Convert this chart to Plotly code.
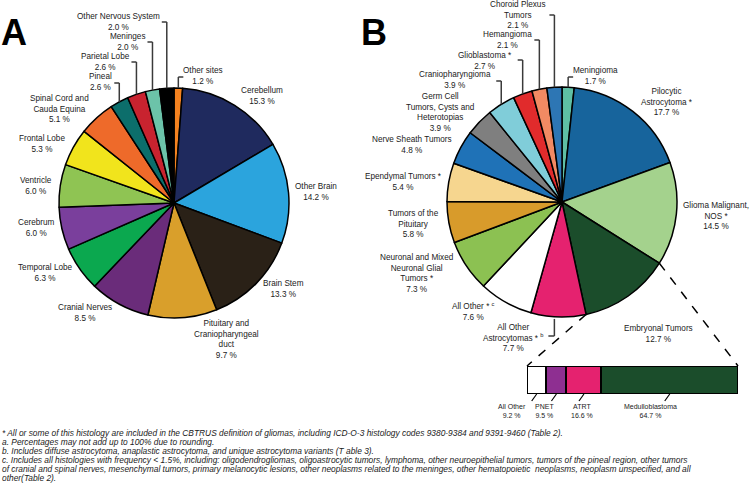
import math
import plotly.graph_objects as go

W, H = 750, 484
FONT = "Liberation Sans, Arial, sans-serif"
TXT = "#222222"

# ---------------- Panel A: tumour site ----------------
site_labels = ["Other sites", "Cerebellum", "Other Brain", "Brain Stem",
               "Pituitary and<br>Craniopharyngeal<br>duct", "Cranial Nerves",
               "Temporal Lobe", "Cerebrum", "Ventricle", "Frontal Lobe",
               "Spinal Cord and<br>Cauda Equina", "Pineal", "Parietal Lobe",
               "Meninges", "Other Nervous System"]
site_values = [1.2, 15.3, 14.2, 13.3, 9.7, 8.5, 6.3, 6.0, 6.0, 5.3, 5.1, 2.6, 2.6, 2.0, 2.0]
site_colors = ["#f5821f", "#1f2a5e", "#2ba4dd", "#2a2117", "#d99f2b", "#6a2c7a",
               "#0ba84f", "#7a3f9c", "#8fc453", "#f1e41c", "#ee6a2a", "#0c6e6b",
               "#c8232f", "#6cc3a9", "#000000"]
# label centres (pixels)
site_label_pos = [(203, 76), (262, 96.5), (316, 192), (283, 288.5), (227, 339),
                  (85, 313), (45, 273), (36, 228.5), (36, 185.5), (42, 144),
                  (59, 108.5), (101, 82.5), (105, 62), (128, 42), (118, 22)]
# leader lines: index -> (tick y, tick direction)
site_leaders = {0: (77, 1), 11: (83, -1), 12: (62, -1), 13: (42, -1), 14: (22, -1)}

# ---------------- Panel B: histology ----------------
hist_labels = ["Meningioma", "Pilocytic<br>Astrocytoma *", "Glioma Malignant,<br>NOS *",
               "Embryonal Tumors", "All Other<br>Astrocytomas * <sup>b</sup>",
               "All Other * <sup>c</sup>", "Neuronal and Mixed<br>Neuronal Glial<br>Tumors *",
               "Tumors of the<br>Pituitary", "Ependymal Tumors *", "Nerve Sheath Tumors",
               "Germ Cell<br>Tumors, Cysts and<br>Heterotopias", "Craniopharyngioma",
               "Glioblastoma *", "Hemangioma", "Choroid Plexus<br>Tumors"]
hist_values = [1.7, 17.7, 14.5, 12.7, 7.7, 7.6, 7.3, 5.8, 5.4, 4.8, 3.9, 3.9, 2.7, 2.1, 2.1]
hist_colors = ["#5fbfa5", "#17649c", "#a4d28d", "#1b4d2b", "#e5226f", "#ffffff",
               "#8cc152", "#d89b2b", "#f6d68f", "#1f72b7", "#7f7f7f", "#80cdd9",
               "#e12b2c", "#f28a63", "#2d76b4"]
hist_label_pos = [(595, 76), (667, 101.5), (716, 215.5), (658, 334), (513, 337.5),
                  (473, 311), (417, 273.5), (413, 223.5), (403, 182), (412, 145),
                  (440, 112.5), (455, 80.5), (485, 60.5), (507, 40), (518, 15)]
hist_leaders = {0: (77, 1), 11: (81, -1), 12: (60, -1), 13: (40, -1), 14: (15, -1)}
hist_leaders_down = {4: (336, -1)}

# ---------------- Embryonal breakdown ----------------
emb_labels = ["All Other", "PNET", "ATRT", "Medulloblastoma"]
emb_values = [9.2, 9.5, 16.6, 64.7]
emb_colors = ["#ffffff", "#8e2f91", "#e5226f", "#1b4d2b"]
emb_label_pos = [(512, 411), (544, 411), (582, 411), (650, 411)]
emb_parent = "Embryonal Tumors"

footnotes = [
    "* All or some of this histology are included in the CBTRUS definition of gliomas, including ICD-O-3 histology codes 9380-9384 and 9391-9460 (Table 2).",
    "a. Percentages may not add up to 100% due to rounding.",
    "b. Includes diffuse astrocytoma, anaplastic astrocytoma, and unique astrocytoma variants (T able 3).",
    "c. Includes all histologies with frequency < 1.5%, including: oligodendrogliomas, oligoastrocytic tumors, lymphoma, other neuroepithelial tumors, tumors of the pineal region, other tumors",
    "of cranial and spinal nerves, mesenchymal tumors, primary melanocytic lesions, other neoplasms related to the meninges, other hematopoietic  neoplasms, neoplasm unspecified, and all",
    "other(Table 2).",
]
footnote_y = [433, 442, 451, 460, 469, 478]

# ---------------- geometry ----------------
A_C, B_C, R = (174, 203), (562, 202), 115
BAR_X = (527, 738)
BAR_Y = (366, 394)
LBL = 8.2


def px(x, y):
    return x / W, 1 - y / H


def domain(c, r):
    x0, y0 = px(c[0] - r, c[1] + r)
    x1, y1 = px(c[0] + r, c[1] - r)
    return dict(x=[x0, x1], y=[y0, y1])


def edge_point(c, frac_pos):
    th = 2 * math.pi * frac_pos
    return c[0] + R * math.sin(th), c[1] - R * math.cos(th)


def mid_point(values, i, c):
    tot = sum(values)
    start = sum(values[:i])
    return edge_point(c, (start + values[i] / 2) / tot)


fig = go.Figure()
for labels, vals, cols, c in [(site_labels, site_values, site_colors, A_C),
                              (hist_labels, hist_values, hist_colors, B_C)]:
    fig.add_trace(go.Pie(labels=[l.replace("<br>", " ") for l in labels], values=vals,
                         marker=dict(colors=cols, line=dict(color="#000000", width=1.5)),
                         sort=False, direction="clockwise", rotation=0,
                         textinfo="none", showlegend=False, domain=domain(c, R)))

for lab, v, col in zip(emb_labels, emb_values, emb_colors):
    fig.add_trace(go.Bar(y=[emb_parent], x=[v], orientation="h", name=lab,
                         marker=dict(color=col, line=dict(color="#000000", width=2)),
                         showlegend=False, xaxis="x", yaxis="y"))

annotations = []
shapes = []


def add_text(text, x, y, size=LBL, color=TXT, **kw):
    xx, yy = px(x, y)
    d = dict(x=xx, y=yy, xref="paper", yref="paper", text=text, showarrow=False,
             font=dict(family=FONT, size=size, color=color), align="center",
             xanchor="center", yanchor="middle")
    d.update(kw)
    annotations.append(d)


def add_line(p0, p1, color="#3a3a3a", width=1.5, dash="solid"):
    x0, y0 = px(*p0)
    x1, y1 = px(*p1)
    shapes.append(dict(type="line", xref="paper", yref="paper", x0=x0, y0=y0, x1=x1, y1=y1,
                       line=dict(color=color, width=width, dash=dash)))


for labels, vals, pos in [(site_labels, site_values, site_label_pos),
                          (hist_labels, hist_values, hist_label_pos)]:
    for l, v, (x, y) in zip(labels, vals, pos):
        add_text(f"{l}<br>{v:.1f} %", x, y)

for vals, leaders, c in [(site_values, site_leaders, A_C), (hist_values, hist_leaders, B_C)]:
    for i, (ty, d) in leaders.items():
        ex, ey = mid_point(vals, i, c)
        add_line((ex, ey), (ex, ty))
        add_line((ex, ty), (ex + 5 * d, ty))
for i, (ty, d) in hist_leaders_down.items():
    ex, ey = mid_point(hist_values, i, B_C)
    add_line((ex - 4, ey + 2), (ex - 4, ty))
    add_line((ex - 4, ty), (ex - 4 + 6 * d, ty))

# dashed connectors from embryonal slice to bar
ei = hist_labels.index(emb_parent)
tot = sum(hist_values)
p_start = edge_point(B_C, sum(hist_values[:ei]) / tot)
p_end = edge_point(B_C, sum(hist_values[:ei + 1]) / tot)
add_line(p_start, (BAR_X[1], BAR_Y[0]), color="#000000", width=1.5, dash="dash")
add_line(p_end, (BAR_X[0], BAR_Y[0]), color="#000000", width=1.5, dash="dash")

# bar labels and ticks
etot = sum(emb_values)
cum = 0
for lab, v, (x, y) in zip(emb_labels, emb_values, emb_label_pos):
    cx = BAR_X[0] + (BAR_X[1] - BAR_X[0]) * (cum + v / 2) / etot
    cum += v
    add_line((cx, BAR_Y[1]), (cx - 5, BAR_Y[1] + 7), color="#000000", width=1.2)
    add_text(f"{lab}<br>{v:.1f} %", x, y, size=7)

# panel letters
add_text("<b>A</b>", -1, 33, size=36, color="#000000", xanchor="left")
add_text("<b>B</b>", 359, 33, size=36, color="#000000", xanchor="left")

for t, y in zip(footnotes, footnote_y):
    add_text(f"<i>{t}</i>", 0, y, size=8.4, xanchor="left", align="left")

bx0, by0 = px(BAR_X[0], BAR_Y[1])
bx1, by1 = px(BAR_X[1], BAR_Y[0])
fig.update_layout(
    width=W, height=H, margin=dict(l=0, r=0, t=0, b=0),
    paper_bgcolor="#ffffff", plot_bgcolor="rgba(0,0,0,0)",
    barmode="stack", bargap=0,
    xaxis=dict(domain=[bx0, bx1], range=[0, etot], visible=False, fixedrange=True),
    yaxis=dict(domain=[by0, by1], range=[-0.5, 0.5], visible=False, fixedrange=True),
    annotations=annotations, shapes=shapes, showlegend=False,
)
fig.write_html("out.html", config={"displayModeBar": False},
               post_script="document.body.style.margin='0';document.body.style.padding='0';")
